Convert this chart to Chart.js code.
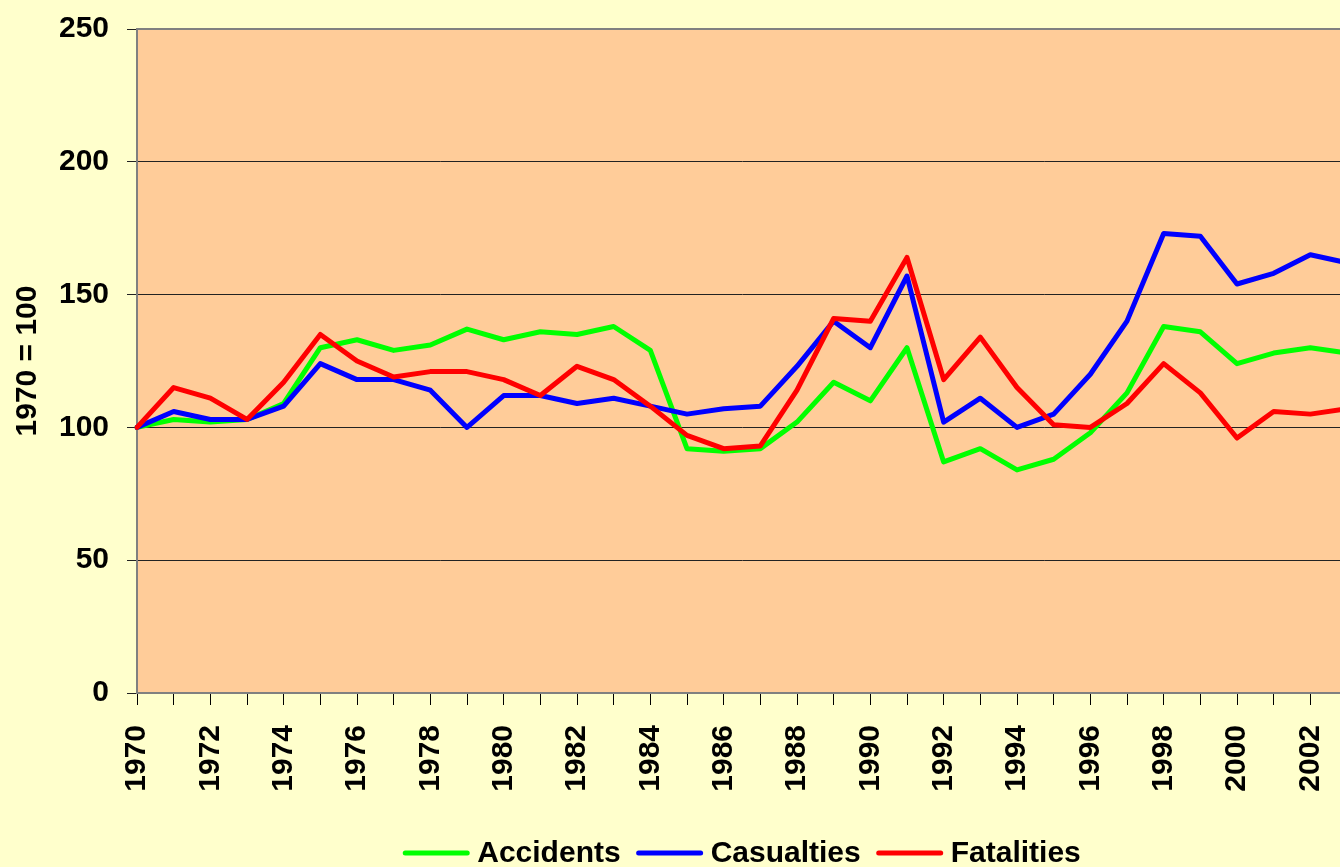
<!DOCTYPE html>
<html lang="en">
<head>
  <meta charset="UTF-8">
  <title>Accidents, casualties and fatalities (1970 = 100)</title>
  <script src="https://cdn.jsdelivr.net/npm/chart.js"></script>
  <style>
    html, body { margin: 0; padding: 0; background: #ffffcc; overflow: hidden; }
    canvas { display: block; }
  </style>
</head>
<body>
  <canvas id="chart" width="1352" height="867"></canvas>

  <script>
    const years = ['1970', '1971', '1972', '1973', '1974', '1975', '1976', '1977', '1978', '1979',
                   '1980', '1981', '1982', '1983', '1984', '1985', '1986', '1987', '1988', '1989',
                   '1990', '1991', '1992', '1993', '1994', '1995', '1996', '1997', '1998', '1999',
                   '2000', '2001', '2002', '2003'];

    const accidents = [100, 103, 102, 103, 109, 130, 133, 129, 131, 137,
                       133, 136, 135, 138, 129, 92, 91, 92, 102, 117,
                       110, 130, 87, 92, 84, 88, 98, 113, 138, 136,
                       124, 128, 130, 128];

    const casualties = [100, 106, 103, 103, 108, 124, 118, 118, 114, 100,
                        112, 112, 109, 111, 108, 105, 107, 108, 123, 140,
                        130, 157, 102, 111, 100, 105, 120, 140, 173, 172,
                        154, 158, 165, 162];

    const fatalities = [100, 115, 111, 103, 117, 135, 125, 119, 121, 121,
                        118, 112, 123, 118, 108, 97, 92, 93, 114, 141,
                        140, 164, 118, 134, 115, 101, 100, 109, 124, 113,
                        96, 106, 105, 107];

    const yTicks = [0, 50, 100, 150, 200, 250];

    const font = "'Liberation Sans', Arial, sans-serif";

    // page + plot area backgrounds, grey frame round the plot
    const plotBg = {
      id: 'plotBg',
      beforeDraw(chart) {
        const { ctx, chartArea: a } = chart;
        ctx.save();
        ctx.fillStyle = '#ffffcc';
        ctx.fillRect(0, 0, chart.width, chart.height);
        ctx.fillStyle = '#ffcc99';
        ctx.fillRect(a.left, a.top, a.right - a.left, a.bottom - a.top);
        ctx.restore();
      },
      beforeDatasetsDraw(chart) {
        const { ctx, chartArea: a } = chart;
        ctx.save();
        ctx.strokeStyle = '#808080';
        ctx.lineWidth = 2;
        ctx.strokeRect(a.left, a.top, a.right - a.left, a.bottom - a.top);
        ctx.restore();
      }
    };

    // legend at the bottom, line sample then label, like the original
    const lineLegend = {
      id: 'lineLegend',
      afterDraw(chart) {
        const ctx = chart.ctx;
        const sets = chart.data.datasets;
        const sample = 66, gapText = 8, gapItem = 16;
        ctx.save();
        ctx.font = 'bold 30px ' + font;
        const widths = sets.map(ds => ctx.measureText(ds.label).width);
        let total = sets.length * (sample + gapText) + gapItem * (sets.length - 1);
        widths.forEach(w => { total += w; });
        const a = chart.chartArea;
        let x = (a.left + a.right) / 2 - total / 2;
        const yLine = 853, yText = 862;
        sets.forEach((ds, i) => {
          ctx.strokeStyle = ds.borderColor;
          ctx.lineWidth = 5;
          ctx.lineCap = 'round';
          ctx.beginPath();
          ctx.moveTo(x + 2, yLine);
          ctx.lineTo(x + sample - 2, yLine);
          ctx.stroke();
          x += sample + gapText;
          ctx.fillStyle = '#000';
          ctx.textBaseline = 'alphabetic';
          ctx.textAlign = 'left';
          ctx.fillText(ds.label, x, yText);
          x += widths[i] + gapItem;
        });
        ctx.restore();
      }
    };

    const lineSet = (label, data, color, order) => ({
      label: label,
      data: data,
      borderColor: color,
      backgroundColor: color,
      borderWidth: 5,
      borderJoinStyle: 'round',
      borderCapStyle: 'round',
      pointRadius: 0,
      tension: 0,
      order: order
    });

    new Chart(document.getElementById('chart'), {
      type: 'line',
      data: {
        labels: years,
        datasets: [
          lineSet('Accidents', accidents, '#00ff00', 2),
          lineSet('Casualties', casualties, '#0000ff', 1),
          lineSet('Fatalities', fatalities, '#ff0000', 0)
        ]
      },
      plugins: [plotBg, lineLegend],
      options: {
        responsive: false,
        devicePixelRatio: 1,
        animation: false,
        layout: { padding: { top: 29, right: 5, left: 0, bottom: 28 } },
        plugins: {
          tooltip: { enabled: false },
          legend: { display: false }
        },
        scales: {
          x: {
            grid: {
              drawOnChartArea: false,
              tickLength: 12,
              color: '#000'
            },
            border: { color: '#808080', width: 2 },
            ticks: {
              autoSkip: false,
              minRotation: 90,
              maxRotation: 90,
              padding: 20,
              color: '#000',
              font: { family: font, size: 30, weight: 'bold' },
              callback: function (v, i) { return i % 2 === 0 ? years[i] : ''; }
            },
            afterFit(scale) {
              scale.height = 146;
              scale.paddingLeft = 0;
              scale.paddingRight = 0;
            }
          },
          y: {
            min: 0,
            max: 250,
            afterBuildTicks(scale) {
              scale.ticks = yTicks.map(v => ({ value: v }));
            },
            grid: { color: '#222', lineWidth: 1, tickLength: 10 },
            border: { color: '#808080', width: 2 },
            ticks: {
              padding: 18,
              color: '#000',
              font: { family: font, size: 30, weight: 'bold' }
            },
            title: {
              display: true,
              text: '1970 = 100',
              color: '#000',
              padding: { top: 10, bottom: 0 },
              font: { family: font, size: 30, weight: 'bold' }
            },
            afterFit(scale) {
              scale.width = 137;
              scale.paddingTop = 0;
              scale.paddingBottom = 0;
            }
          }
        }
      }
    });
  </script>
</body>
</html>
